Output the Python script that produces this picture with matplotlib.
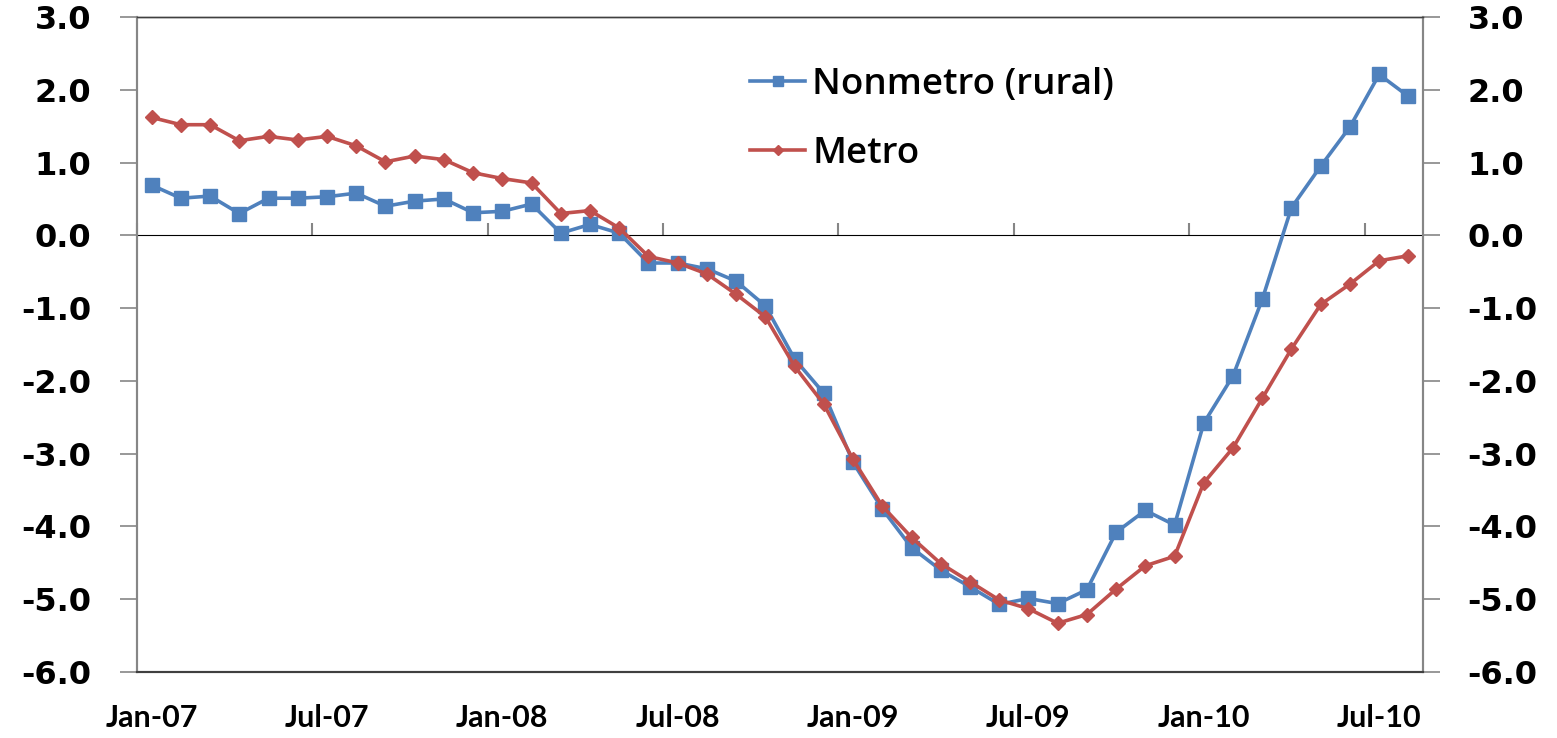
import numpy as np
import matplotlib
matplotlib.use("Agg")
import matplotlib.pyplot as plt

# monthly series, Jan-07 .. Aug-10
months = ["Jan-07", "Feb-07", "Mar-07", "Apr-07", "May-07", "Jun-07", "Jul-07", "Aug-07",
          "Sep-07", "Oct-07", "Nov-07", "Dec-07", "Jan-08", "Feb-08", "Mar-08", "Apr-08",
          "May-08", "Jun-08", "Jul-08", "Aug-08", "Sep-08", "Oct-08", "Nov-08", "Dec-08",
          "Jan-09", "Feb-09", "Mar-09", "Apr-09", "May-09", "Jun-09", "Jul-09", "Aug-09",
          "Sep-09", "Oct-09", "Nov-09", "Dec-09", "Jan-10", "Feb-10", "Mar-10", "Apr-10",
          "May-10", "Jun-10", "Jul-10", "Aug-10"]

nonmetro = [0.69, 0.51, 0.54, 0.30, 0.51, 0.51, 0.53, 0.58, 0.40, 0.47, 0.50, 0.31,
            0.33, 0.43, 0.03, 0.15, 0.03, -0.38, -0.38, -0.46, -0.63, -0.97, -1.70, -2.17,
            -3.12, -3.76, -4.29, -4.60, -4.83, -5.07, -4.99, -5.06, -4.87, -4.08, -3.78, -3.98,
            -2.58, -1.93, -0.88, 0.38, 0.95, 1.49, 2.21, 1.91]

metro = [1.62, 1.52, 1.52, 1.30, 1.36, 1.31, 1.36, 1.23, 1.01, 1.09, 1.04, 0.86,
         0.78, 0.72, 0.30, 0.34, 0.10, -0.29, -0.38, -0.53, -0.81, -1.12, -1.80, -2.32,
         -3.08, -3.72, -4.15, -4.51, -4.76, -5.01, -5.13, -5.33, -5.21, -4.86, -4.54, -4.41,
         -3.40, -2.92, -2.24, -1.56, -0.95, -0.67, -0.35, -0.28]

y_ticks = [3.0, 2.0, 1.0, 0.0, -1.0, -2.0, -3.0, -4.0, -5.0, -6.0]

BLUE = "#4F81BD"
RED = "#C0504D"
AXIS_GREY = "#868686"

fig = plt.figure(figsize=(15.57, 7.38), dpi=100)
ax = fig.add_axes([137 / 1557, 1 - 672 / 738, (1423 - 137) / 1557, (672 - 17) / 738])

x = np.arange(len(months))
ax.plot(x, nonmetro, color=BLUE, linewidth=2.6, marker="s", markersize=10,
        markeredgecolor=BLUE, label="Nonmetro (rural)", zorder=3)
ax.plot(x, metro, color=RED, linewidth=2.6, marker="D", markersize=7.5,
        markeredgecolor=RED, label="Metro", zorder=4)

ymin, ymax = -6.0, 3.0
ax.set_xlim(-0.5, len(months) - 0.5)
ax.set_ylim(ymin, ymax)

# category labels every 6 months, no tick marks on the frame
ax.set_xticks(x[::6])
ax.set_xticklabels(months[::6], fontsize=22, fontweight="bold", family="Lato")
ax.tick_params(axis="x", length=0, pad=23)

# left value axis
ax.set_yticks(y_ticks)
ax.set_yticklabels([f"{v:.1f}" for v in y_ticks], fontsize=23, fontweight="bold")
ax.tick_params(axis="y", direction="out", length=12, width=1.2, color=AXIS_GREY, pad=21)

# right value axis, same scale
ax2 = ax.twinx()
ax2.set_ylim(ymin, ymax)
ax2.set_yticks(y_ticks)
ax2.set_yticklabels([f"{v:.1f}" for v in y_ticks], fontsize=23, fontweight="bold")
ax2.tick_params(axis="y", direction="out", length=12, width=1.2, color=AXIS_GREY, pad=20)

# category axis crosses at zero, ticks between categories
zero_frac = (0 - ymin) / (ymax - ymin)
cat = ax.secondary_xaxis(zero_frac)
cat.set_xticks(np.arange(-0.5, len(months), 6))
cat.set_xticklabels([])
cat.tick_params(axis="x", direction="out", length=9, width=1.5, color=AXIS_GREY)
cat.spines["bottom"].set_color(AXIS_GREY)
cat.spines["bottom"].set_linewidth(1.5)

for a in (ax, ax2):
    a.spines["top"].set_color("#404040")
    a.spines["bottom"].set_color("#404040")
    a.spines["top"].set_linewidth(1.0)
    a.spines["bottom"].set_linewidth(1.5)
    a.spines["left"].set_color(AXIS_GREY)
    a.spines["right"].set_color(AXIS_GREY)
    a.spines["left"].set_linewidth(1.5)
    a.spines["right"].set_linewidth(1.5)

ax.legend(loc="upper left", bbox_to_anchor=(750 / 1557, 1 - 67 / 738),
          bbox_transform=fig.transFigure, frameon=False, borderpad=0, borderaxespad=0,
          handlelength=1.5, handletextpad=0.19, labelspacing=0.9,
          prop={"family": "Open Sans", "size": 26.5, "weight": "semibold"}, markerscale=0.7)

fig.savefig("out.png", dpi=100)
